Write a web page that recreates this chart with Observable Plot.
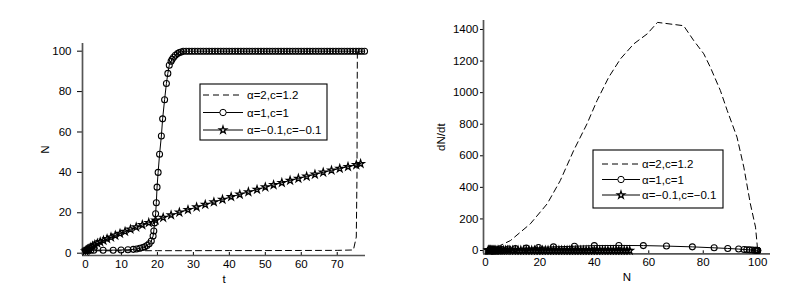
<!DOCTYPE html>
<html><head><meta charset="utf-8">
<script src="https://cdn.jsdelivr.net/npm/d3@7"></script>
<script src="https://cdn.jsdelivr.net/npm/@observablehq/plot@0.6"></script>
<style>
body{margin:0;background:#fff;}
#wrap{position:relative;width:789px;height:295px;background:#fff;}
#left{position:absolute;left:0;top:0;}
#right{position:absolute;left:394px;top:0;}
</style></head><body><div id="wrap"><div id="left"></div><div id="right"></div></div>
<script>
// ---------- data ----------
const legendLabels = ["α=2,c=1.2", "α=1,c=1", "α=−0.1,c=−0.1"];
const leftXTicks = [0, 10, 20, 30, 40, 50, 60, 70];
const leftYTicks = [0, 20, 40, 60, 80, 100];
const rightXTicks = [0, 20, 40, 60, 80, 100];
const rightYTicks = [0, 200, 400, 600, 800, 1000, 1200, 1400];

// left: N(t)
const dashT = [0, 10, 20, 30, 40, 50, 60, 70, 74.5, 75.3, 75.5, 75.55, 75.6];
const dashN = [1.2, 1.2, 1.25, 1.25, 1.3, 1.3, 1.35, 1.4, 1.6, 8, 40, 80, 100];

const circT = [0, 0.4, 0.9, 1.5, 2.3, 4.9, 7.7, 9.9, 11.8, 13.3, 14.2, 15.1, 15.9, 16.5, 17.1, 17.7, 18.3, 18.8, 19.0, 19.2, 19.5, 19.7, 19.9, 20.2, 20.6, 21.1, 21.45, 22.0, 22.5, 22.9, 23.3, 23.8, 24.1, 24.5, 25.0, 25.6, 26.1, 26.6];
const circN = [1.5, 1.5, 1.5, 1.5, 1.5, 1.5, 1.5, 1.6, 1.7, 1.9, 2.1, 2.4, 2.8, 3.2, 3.8, 4.7, 6, 8.5, 11, 15, 19.5, 25, 32.7, 40, 49, 58, 66.5, 76, 84, 89, 93, 95, 96, 97, 98, 98.8, 99.3, 99.6];
const plateauT = [27.2, 28, 28.8, 29.6, 30.4, 31.2, 32, 32.8, 33.6, 34.4, 35.2, 36, 36.8, 37.6, 38.4, 39.2, 40, 40.8, 41.6, 42.4, 43.2, 44, 44.8, 45.6, 46.4, 47.2, 48, 48.8, 49.6, 50.4, 51.2, 52, 52.8, 53.6, 54.4, 55.2, 56, 56.8, 57.6, 58.4, 59.2, 60, 60.8, 61.6, 62.4, 63.2, 64, 64.8, 65.6, 66.4, 67.2, 68, 68.8, 69.6, 70.4, 71.2, 72, 72.8, 73.6, 74.4, 75.2, 76, 76.8, 77.6];
const plateauN = [100, 100, 100, 100, 100, 100, 100, 100, 100, 100, 100, 100, 100, 100, 100, 100, 100, 100, 100, 100, 100, 100, 100, 100, 100, 100, 100, 100, 100, 100, 100, 100, 100, 100, 100, 100, 100, 100, 100, 100, 100, 100, 100, 100, 100, 100, 100, 100, 100, 100, 100, 100, 100, 100, 100, 100, 100, 100, 100, 100, 100, 100, 100, 100];

const starT = [0, 0.3, 0.6, 1.0, 1.5, 2.0, 2.6, 3.3, 4.1, 5.0, 6.0, 7.1, 8.3, 9.6, 11.0, 12.5, 14.1, 15.8, 17.6, 19.5, 21.6, 23.8, 26.1, 28.5, 30.9, 33.3, 35.7, 38.1, 40.5, 42.9, 45.3, 47.7, 50.0, 52.3, 54.6, 56.9, 59.2, 61.5, 63.8, 66.1, 68.4, 70.7, 73.0, 75.3, 76.5];
const starN = [1.0, 1.4, 1.8, 2.3, 2.9, 3.5, 4.2, 4.9, 5.6, 6.3, 7.1, 7.9, 8.8, 9.7, 10.7, 11.8, 12.9, 14.0, 15.1, 16.3, 17.6, 18.9, 20.2, 21.5, 22.8, 24.1, 25.3, 26.6, 27.9, 29.1, 30.3, 31.5, 32.7, 33.8, 34.9, 36.0, 37.0, 38.0, 39.0, 40.0, 41.0, 41.9, 42.8, 43.7, 44.3];

// right: dN/dt vs N
const dashRN = [1, 3, 5.5, 9.2, 16.5, 22.7, 27.5, 32.4, 37.3, 41, 45.3, 49.6, 54.5, 59.4, 63.2, 72.8, 76.5, 80.2, 82.6, 86.3, 88.8, 92.4, 94.9, 97.3, 99.2, 100];
const dashRD = [0, 10, 32, 63, 169, 296, 443, 633, 802, 950, 1098, 1214, 1309, 1372, 1445, 1424, 1330, 1246, 1161, 1013, 887, 718, 528, 296, 148, 0];

const circRN = [1.5, 1.5, 1.5, 1.5, 1.5, 1.5, 1.5, 1.6, 1.7, 1.9, 2.1, 2.4, 2.8, 3.2, 3.8, 4.7, 6, 8.5, 11, 15, 19.5, 25, 32.7, 40, 49, 58, 66.5, 76, 84, 89, 93, 95, 96, 97, 98, 98.8, 99.3, 99.6, 99.8, 99.9, 100, 100, 100];
const circRD = [0.5, 0.5, 0.5, 0.5, 0.6, 0.6, 0.7, 0.8, 1, 1.2, 1.5, 1.8, 2.3, 2.8, 3.5, 4.5, 6, 9, 12, 15, 19, 23, 27, 31, 32, 31, 28, 23, 17, 13, 9, 6.5, 5, 4, 3, 2, 1.2, 0.8, 0.5, 0.3, 0.2, 0.1, 0];

const starRN = [1, 1.2, 1.4, 1.6, 1.8, 2, 2.3, 2.6, 3, 3.4, 3.8, 4.3, 4.8, 5.4, 6, 6.7, 7.4, 8.2, 9, 10, 11, 12, 13, 14, 15, 16, 17, 18, 19, 20, 21, 22, 23, 24, 25, 26, 27, 28, 29, 30, 31, 32, 33, 34, 35, 36, 37, 38, 39, 40, 41, 42, 43, 44, 45, 46, 47, 48, 49, 50, 51, 52, 53];
const starRD = [1.4, 1.4, 1.35, 1.3, 1.3, 1.25, 1.2, 1.15, 1.1, 1.05, 1.0, 0.98, 0.95, 0.92, 0.9, 0.88, 0.85, 0.82, 0.8, 0.78, 0.76, 0.74, 0.72, 0.7, 0.68, 0.67, 0.66, 0.65, 0.64, 0.63, 0.62, 0.61, 0.6, 0.59, 0.58, 0.57, 0.56, 0.55, 0.54, 0.53, 0.52, 0.51, 0.5, 0.5, 0.49, 0.48, 0.47, 0.46, 0.45, 0.45, 0.44, 0.43, 0.42, 0.42, 0.41, 0.4, 0.4, 0.39, 0.38, 0.38, 0.37, 0.36, 0.36];

// ---------- helpers ----------
const zipXY = (xs, ys) => xs.map((x, i) => ({x, y: ys[i]}));
const FONT = "'Liberation Sans', Arial, Helvetica, sans-serif";
const AXIS = "#555";

function panel({width, margins, xDomain, yDomain, xTicks, yTicks, xLabel, yLabel, yTickSize, yTickPad, yLabelOffset, series}) {
  const [mt, mr, mb, ml] = margins;
  const marks = [
    Plot.axisX({ticks: xTicks, tickSize: -3, tickPadding: 7, tickFormat: d => String(d),
      label: xLabel, labelAnchor: "center", labelOffset: 27, labelArrow: "none"}),
    Plot.axisY({ticks: yTicks, tickSize: yTickSize, tickPadding: yTickPad, tickFormat: d => String(d),
      label: yLabel, labelAnchor: "center", labelOffset: yLabelOffset, labelArrow: "none"}),
    Plot.ruleX([xDomain[0]], {stroke: AXIS, strokeWidth: 1.7}),
    Plot.ruleY([yDomain[0]], {stroke: AXIS, strokeWidth: 1.7}),
  ];
  const [dash, circ, star] = series;
  marks.push(Plot.line(dash, {x: "x", y: "y", stroke: "black", strokeWidth: 1, strokeDasharray: "6,4"}));
  marks.push(Plot.line(circ, {x: "x", y: "y", stroke: "black", strokeWidth: 1}));
  marks.push(Plot.dot(circ, {x: "x", y: "y", symbol: "circle", r: 3, stroke: "black", fill: "none", strokeWidth: 1.05}));
  marks.push(Plot.line(star, {x: "x", y: "y", stroke: "black", strokeWidth: 1}));
  marks.push(Plot.dot(star, {x: "x", y: "y", symbol: "star", r: 2.3, stroke: "black", fill: "none", strokeWidth: 1.25}));
  return Plot.plot({
    width, height: 295,
    marginTop: mt, marginRight: mr, marginBottom: mb, marginLeft: ml,
    style: {fontFamily: FONT, fontSize: "11.5px", color: "black", background: "white", overflow: "visible"},
    x: {domain: xDomain}, y: {domain: yDomain},
    marks
  });
}

function legend(svg, {x, y, w, h, rowY, sx1, sx2, tx}) {
  const g = d3.select(svg).append("g").attr("font-family", FONT).attr("font-size", "11.5px")
    .attr("text-anchor", "start").attr("fill", "black");
  g.append("rect").attr("x", x).attr("y", y).attr("width", w).attr("height", h)
    .attr("fill", "white").attr("stroke", "black").attr("stroke-width", 1.1);
  const mx = (sx1 + sx2) / 2;
  legendLabels.forEach((lab, i) => {
    const yy = rowY[i];
    const ln = g.append("line").attr("x1", sx1).attr("x2", sx2).attr("y1", yy).attr("y2", yy)
      .attr("stroke", "black").attr("stroke-width", 1);
    if (i === 0) ln.attr("stroke-dasharray", "6,4");
    if (i === 1) g.append("circle").attr("cx", mx).attr("cy", yy).attr("r", 3.2)
      .attr("fill", "white").attr("stroke", "black").attr("stroke-width", 1);
    if (i === 2) g.append("path").attr("d", d3.symbol(d3.symbolStar, 17)())
      .attr("transform", `translate(${mx},${yy})`).attr("fill", "white").attr("stroke", "black").attr("stroke-width", 1.25);
    g.append("text").attr("x", tx).attr("y", yy).attr("dy", "0.35em").attr("text-anchor", "start").text(lab);
  });
}

// ---------- left panel ----------
const leftSvg = panel({
  width: 394, margins: [43, 29, 40, 82],
  xDomain: [-0.83, 77.86], yDomain: [-1.14, 103.8],
  xTicks: leftXTicks, yTicks: leftYTicks, xLabel: "t", yLabel: "N",
  yTickSize: 5, yTickPad: 6, yLabelOffset: 42,
  series: [zipXY(dashT, dashN), zipXY(circT.concat(plateauT), circN.concat(plateauN)), zipXY(starT, starN)]
});
legend(leftSvg, {x: 200, y: 84, w: 127, h: 56, rowY: [95, 112.5, 130], sx1: 203, sx2: 243, tx: 247});
document.getElementById("left").appendChild(leftSvg);

// ---------- right panel ----------
const rightSvg = panel({
  width: 395, margins: [20, 19, 41.7, 89],
  xDomain: [-0.7, 104.7], yDomain: [-20.9, 1457],
  xTicks: rightXTicks, yTicks: rightYTicks, xLabel: "N", yLabel: "dN/dt",
  yTickSize: 3, yTickPad: 2, yLabelOffset: 47,
  series: [zipXY(dashRN, dashRD), zipXY(circRN, circRD), zipXY(starRN, starRD)]
});
legend(rightSvg, {x: 199, y: 150, w: 130, h: 58, rowY: [164, 179.5, 195], sx1: 208, sx2: 246, tx: 248});
document.getElementById("right").appendChild(rightSvg);
</script>
</body></html>
